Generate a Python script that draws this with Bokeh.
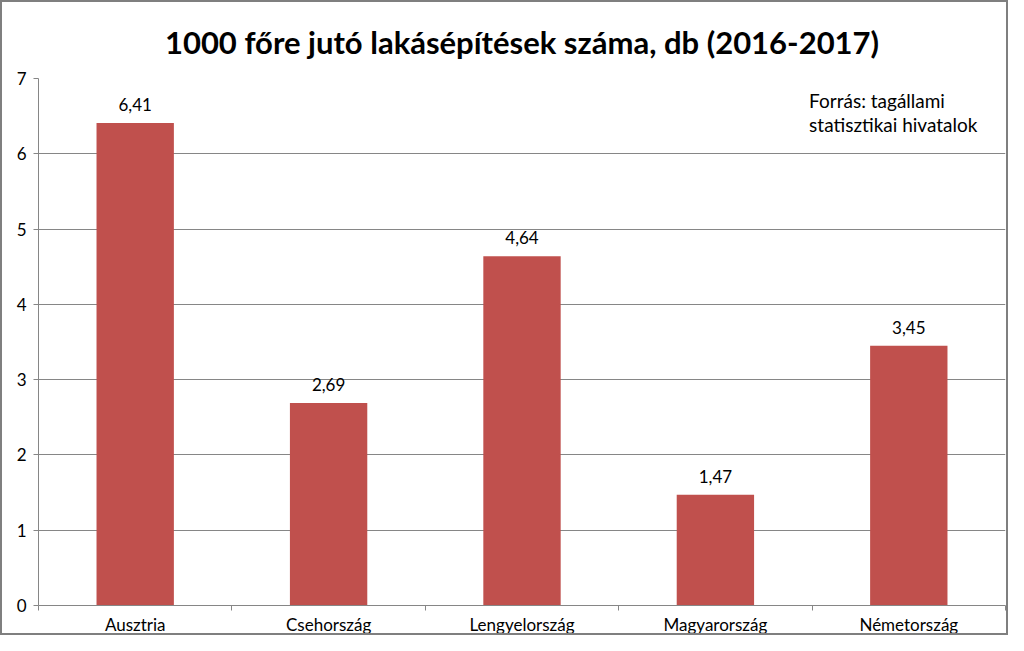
import numpy as np
from bokeh.plotting import figure
from bokeh.models import ColumnDataSource, LabelSet, Label, FixedTicker, Range1d
from bokeh.core.properties import value
from bokeh.embed import file_html
from bokeh.resources import INLINE

title_text = "1000 főre jutó lakásépítések száma, db (2016-2017)"
categories = ["Ausztria", "Csehország", "Lengyelország", "Magyarország", "Németország"]
values = [6.41, 2.69, 4.64, 1.47, 3.45]
y_ticks = [0, 1, 2, 3, 4, 5, 6, 7]
note_lines = ["Forrás: tagállami", "statisztikai hivatalok"]

FONT = "Lato"
BAR = "#C0504D"
GRID = "#868686"

xs = np.arange(len(categories)) + 0.5
src = ColumnDataSource(dict(
    x=xs, top=values,
    lbl=[f"{v:.2f}".replace(".", ",") for v in values],
))

p = figure(width=1008, height=635, output_backend="svg", toolbar_location=None,
           x_range=Range1d(0, len(categories)), y_range=Range1d(0, 7),
           min_border_left=36, min_border_right=5, min_border_top=0, min_border_bottom=26)
p.styles = {"border": "2px solid #7f7f7f", "box-sizing": "border-box"}
p.outline_line_color = None
p.background_fill_color = "white"
p.border_fill_color = "white"

p.vbar(x="x", top="top", width=0.4, bottom=0, source=src, color=BAR, line_color=None)

labels = LabelSet(x="x", y="top", text="lbl", source=src, text_align="center",
                  text_baseline="alphabetic", y_offset=12, text_font=value(FONT),
                  text_font_size="17px", text_color="#000000")
p.add_layout(labels)

for i, line in enumerate(note_lines):
    p.add_layout(Label(x=4.0, y=6.86, x_offset=-3, y_offset=-24 * i, text=line,
                       text_font=FONT, text_font_size="19px",
                       text_baseline="top", text_align="left", text_color="#000000"))

p.title.text = title_text
p.title.text_font = FONT
p.title.text_font_style = "bold"
p.title.text_font_size = "31px"
p.title.text_color = "#000000"
p.title.align = "center"
p.title.offset = -8
p.title.standoff = 36

# y axis
p.yaxis.ticker = FixedTicker(ticks=y_ticks)
p.yaxis.axis_line_color = GRID
p.yaxis.major_tick_line_color = GRID
p.yaxis.major_tick_out = 5
p.yaxis.major_tick_in = 0
p.yaxis.minor_tick_line_color = None
p.yaxis.major_label_text_font = FONT
p.yaxis.major_label_text_font_size = "17px"
p.yaxis.major_label_text_color = "#000000"
p.yaxis.major_label_standoff = 7

# x axis
p.xaxis.ticker = FixedTicker(ticks=list(xs), minor_ticks=list(np.arange(len(categories) + 1)))
p.xaxis.major_label_overrides = {float(x): c for x, c in zip(xs, categories)}
p.xaxis.axis_line_color = GRID
p.xaxis.major_tick_line_color = None
p.xaxis.major_tick_out = 0
p.xaxis.major_tick_in = 0
p.xaxis.minor_tick_line_color = GRID
p.xaxis.minor_tick_out = 5
p.xaxis.minor_tick_in = 0
p.xaxis.major_label_text_font = FONT
p.xaxis.major_label_text_font_size = "17px"
p.xaxis.major_label_text_color = "#000000"
p.xaxis.major_label_standoff = 3

p.xgrid.grid_line_color = None
p.ygrid.grid_line_color = GRID
p.ygrid.grid_line_width = 1

open("out.html", "w").write(file_html(p, INLINE))
